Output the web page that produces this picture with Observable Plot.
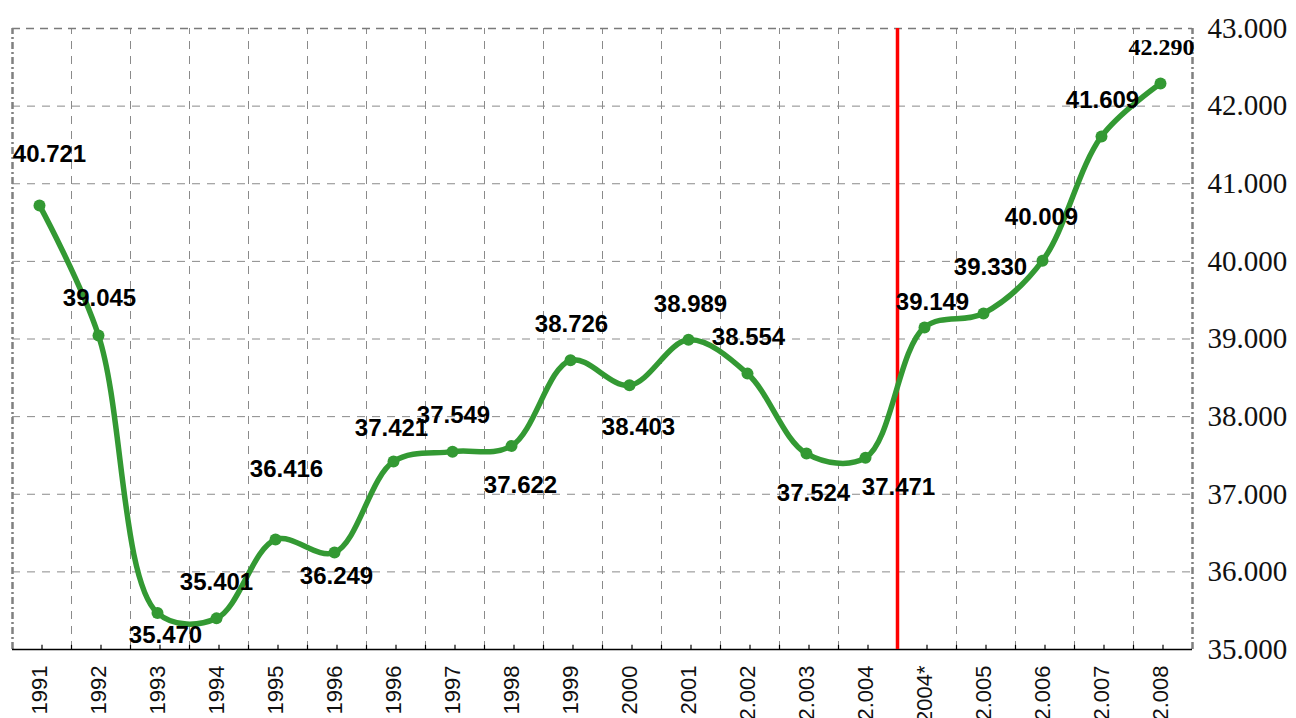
<!DOCTYPE html>
<html>
<head>
<meta charset="utf-8">
<script src="https://cdn.jsdelivr.net/npm/d3@7"></script>
<script src="https://cdn.jsdelivr.net/npm/@observablehq/plot@0.6"></script>
<style>
  html, body { margin: 0; padding: 0; background: #fff; }
  #chart svg { display: block; }
</style>
</head>
<body>
<div id="chart"></div>
<script>
// ---- data ----
const categories = ["1991","1992","1993","1994","1995","1996","1996","1997","1998","1999","2000","2001","2.002","2.003","2.004","2004*","2.005","2.006","2.007","2.008"];
const values = [40.721,39.045,35.470,35.401,36.416,36.249,37.421,37.549,37.622,38.726,38.403,38.989,38.554,37.524,37.471,39.149,39.330,40.009,41.609,42.290];
const yTicks = [35,36,37,38,39,40,41,42,43];
const markerAfter = "2.004"; // red vertical line drawn after this category
// pixel offsets of each value label from its point
const labelShift = [[10,-51],[1,-37],[8,22],[0,-36],[11,-70],[2,24],[-2,-33],[1,-36],[9,39],[1,-36],[9,42],[2,-36],[1,-36],[7,40],[33,30],[8,-25],[7,-46],[-1,-43],[1,-36],[1,-36]];

const data = categories.map((c, i) => ({i, cat: c, value: values[i]}));
const n = categories.length;
const fmt = d3.format(".3f");
const idx = d3.range(n);
const bounds = d3.range(n - 1).map(k => k + 0.5);
const markerPos = categories.indexOf(markerAfter) + 0.5;
const yMin = d3.min(yTicks), yMax = d3.max(yTicks);
const shiftX = -2.5;

const green = "#339933";
const gridStyle = {stroke: "#8a8a8a", strokeWidth: 1, strokeDasharray: "8,7"};

const marks = [
  // horizontal gridlines
  Plot.ruleY(yTicks.filter(v => v > yMin && v < yMax), {x1: -0.5, x2: n - 0.5, ...gridStyle}),
  // vertical gridlines at category boundaries
  Plot.ruleX(bounds, {y1: yMin, y2: yMax, ...gridStyle}),
  // frame: top dashed, left/right dash-dot
  Plot.ruleY([yMax], {x1: -0.5, x2: n - 0.5, stroke: "#7a7a7a", strokeWidth: 1.5, strokeDasharray: "8,6"}),
  Plot.ruleX([-0.5, n - 0.5], {y1: yMin, y2: yMax, stroke: "#808080", strokeWidth: 2.5, strokeDasharray: "7,3,2,3"}),
  // bottom axis line
  Plot.ruleY([yMin], {x1: -0.5, x2: n - 0.5, stroke: "#000", strokeWidth: 1.5}),
  // bottom ticks (centers and boundaries), pointing upward
  Plot.link(idx.concat(bounds), {x1: d => d, x2: d => d, y1: yMin, y2: yMin + 0.06, stroke: "#000", strokeWidth: 1.2}),
  // red marker line
  Plot.ruleX([markerPos], {y1: yMin, y2: yMax, stroke: "#ff0000", strokeWidth: 3.5}),
  // series line
  Plot.line(data, {x: "i", y: "value", curve: "catmull-rom", stroke: green, strokeWidth: 5.5, strokeLinejoin: "round", strokeLinecap: "round", dx: shiftX}),
  Plot.dot(data, {x: "i", y: "value", r: 6, fill: green, dx: shiftX}),
  // x tick labels, rotated
  Plot.text(data, {x: "i", y: () => yMin, text: "cat", rotate: -90, textAnchor: "end", lineAnchor: "middle", dy: 16, dx: shiftX, fontSize: 22, fontFamily: "Liberation Sans, Arial, sans-serif", fill: "#111"}),
  // y tick labels on the right
  Plot.text(yTicks, {x: () => n - 0.5, y: d => d, text: d => fmt(d), textAnchor: "start", lineAnchor: "middle", dx: 15, fontSize: 29, fontFamily: "Liberation Serif, Times New Roman, serif", fill: "#111"})
];

// value labels
data.forEach((d, k) => {
  const last = k === n - 1;
  marks.push(Plot.text([d], {
    x: "i", y: "value", text: v => fmt(v.value),
    dx: labelShift[k][0] + shiftX, dy: labelShift[k][1],
    textAnchor: "middle", lineAnchor: "middle",
    fontSize: 24, fontWeight: "bold",
    fontFamily: last ? "Liberation Serif, Times New Roman, serif" : "Liberation Sans, Arial, sans-serif",
    fill: "#000"
  }));
});

const chart = Plot.plot({
  width: 1296,
  height: 718,
  marginLeft: 12,
  marginRight: 104,
  marginTop: 28,
  marginBottom: 69,
  x: {type: "linear", domain: [-0.5, n - 0.5], axis: null},
  y: {domain: [yMin, yMax], axis: null},
  style: {background: "#fff", overflow: "hidden"},
  marks
});
document.getElementById("chart").appendChild(chart);
</script>
</body>
</html>
